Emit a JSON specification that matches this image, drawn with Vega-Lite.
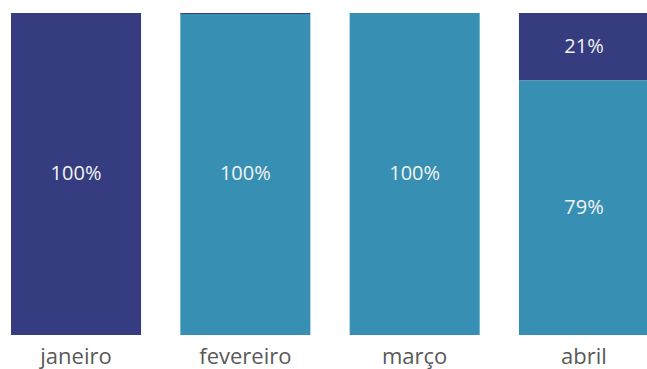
{
  "$schema": "https://vega.github.io/schema/vega-lite/v6.json",
  "width": 660,
  "height": 322,
  "autosize": {"type": "none"},
  "padding": {"left": 0, "top": 13, "right": 0, "bottom": 34},
  "background": "white",
  "config": {"view": {"stroke": null}, "font": "Open Sans"},
  "data": {
    "values": [
      {"mes": "janeiro", "serie": "Série 1", "valor": 100, "rotulo": "100%"},
      {"mes": "janeiro", "serie": "Série 2", "valor": 0, "rotulo": ""},
      {"mes": "fevereiro", "serie": "Série 1", "valor": 0.3, "rotulo": ""},
      {"mes": "fevereiro", "serie": "Série 2", "valor": 99.7, "rotulo": "100%"},
      {"mes": "março", "serie": "Série 1", "valor": 0, "rotulo": ""},
      {"mes": "março", "serie": "Série 2", "valor": 100, "rotulo": "100%"},
      {"mes": "abril", "serie": "Série 1", "valor": 21, "rotulo": "21%"},
      {"mes": "abril", "serie": "Série 2", "valor": 79, "rotulo": "79%"}
    ]
  },
  "encoding": {
    "x": {
      "field": "mes",
      "type": "nominal",
      "sort": null,
      "scale": {"paddingInner": 0.232, "paddingOuter": 0.065},
      "axis": {
        "title": null,
        "domain": false,
        "ticks": false,
        "labelAngle": 0,
        "labelFontSize": 22,
        "labelColor": "#595959",
        "labelPadding": 11,
        "labelFont": "Open Sans"
      }
    },
    "y": {
      "field": "valor",
      "type": "quantitative",
      "stack": "normalize",
      "axis": null
    },
    "order": {"field": "serie", "sort": "descending"}
  },
  "layer": [
    {
      "mark": {"type": "bar"},
      "encoding": {
        "color": {
          "field": "serie",
          "type": "nominal",
          "scale": {"domain": ["Série 1", "Série 2"], "range": ["#353D80", "#3790B3"]},
          "legend": null
        }
      }
    },
    {
      "mark": {"type": "text", "color": "#F2F2F2", "fontSize": 20, "baseline": "middle", "font": "Open Sans"},
      "encoding": {
        "y": {"field": "valor", "type": "quantitative", "stack": "normalize", "bandPosition": 0.5, "axis": null},
        "text": {"field": "rotulo"}
      }
    }
  ]
}
